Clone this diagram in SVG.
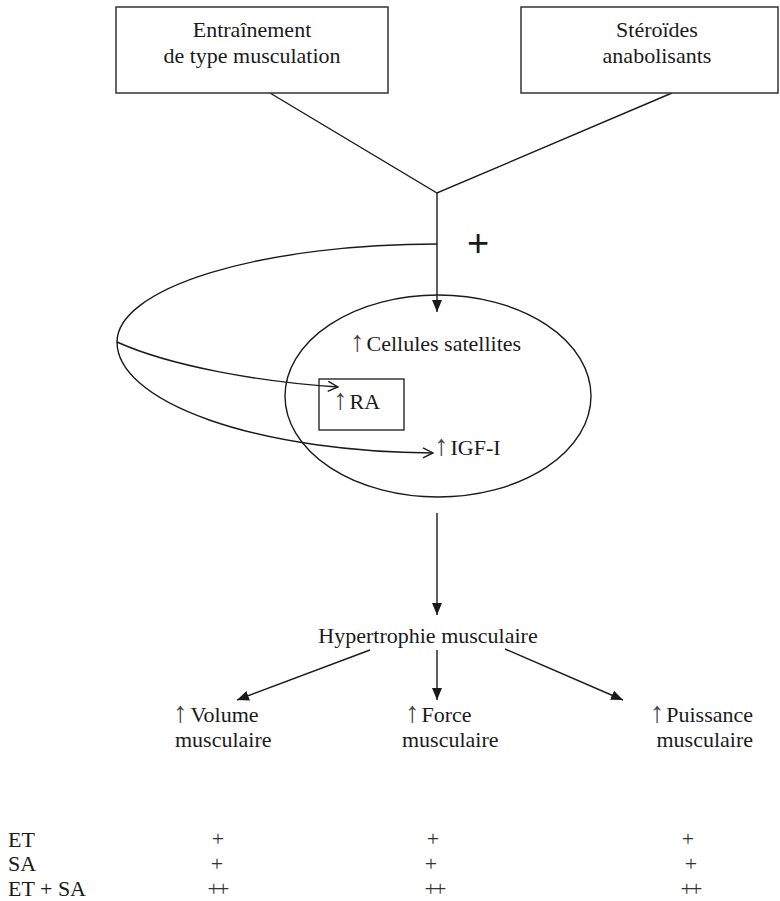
<svg xmlns="http://www.w3.org/2000/svg" width="780" height="901" viewBox="0 0 780 901">
<style>
.t{font-family:"Liberation Serif","Times New Roman",serif;font-size:22px;fill:#1a1a1a}
.box{fill:#fff;stroke:#333;stroke-width:1.5}
.ln{fill:none;stroke:#1a1a1a;stroke-width:1.4}
.up{font-size:29px;fill:#444}
.pl{font-family:"Liberation Serif",serif;font-size:22px;fill:#333;text-anchor:middle}
</style>
<defs>
<marker id="ah" viewBox="0 0 12 10" refX="12" refY="5" markerWidth="12" markerHeight="10" orient="auto" markerUnits="userSpaceOnUse"><path d="M0,0 L12,5 L0,10 z" fill="#1a1a1a"/></marker>
<marker id="oh" viewBox="0 0 12 12" refX="11" refY="6" markerWidth="12" markerHeight="12" orient="auto" markerUnits="userSpaceOnUse"><path d="M1,1 L11,6 L1,11" fill="none" stroke="#1a1a1a" stroke-width="1.4"/></marker>
</defs>
<rect width="780" height="901" fill="#fff"/>
<g id="connectors">
<path class="ln" d="M270,93 L437,193 L672,93"/>
<path class="ln" d="M437,193 L437,312" marker-end="url(#ah)"/>
<path class="ln" d="M437,244 A320,98 0 0 0 117,342"/>
<path class="ln" d="M117,342 A320,111 0 0 0 433,453" marker-end="url(#oh)"/>
<path class="ln" d="M117,342 C170,366 260,382 338,387" marker-end="url(#oh)"/>
<path class="ln" d="M437,513 L437,615" marker-end="url(#ah)"/>
<path class="ln" d="M370,650 L237,700" marker-end="url(#ah)"/>
<path class="ln" d="M437,650 L437,700" marker-end="url(#ah)"/>
<path class="ln" d="M505,649 L623,700" marker-end="url(#ah)"/>
<text x="478" y="256" style="font-family:'Liberation Sans',Arial,sans-serif;font-size:38px;fill:#1a1a1a" text-anchor="middle">+</text>
</g>
<g id="entrainement">
<rect class="box" x="116" y="7" width="272" height="86"/>
<text class="t" x="252" y="37" text-anchor="middle">Entraînement</text>
<text class="t" x="252" y="63" text-anchor="middle">de type musculation</text>
</g>
<g id="steroides">
<rect class="box" x="521" y="7" width="257" height="86"/>
<text class="t" x="657" y="37" text-anchor="middle">Stéroïdes</text>
<text class="t" x="657" y="63" text-anchor="middle">anabolisants</text>
</g>
<g id="cellules">
<ellipse cx="438" cy="396" rx="153" ry="101" fill="none" stroke="#1a1a1a" stroke-width="1.4"/>
<text class="t" x="350" y="351"><tspan class="up">↑</tspan><tspan dx="2">Cellules satellites</tspan></text>
</g>
<g id="ra">
<rect x="319" y="379" width="85" height="51" fill="none" stroke="#1a1a1a" stroke-width="1.3"/>
<text class="t" x="333" y="409"><tspan class="up" fill="#888">↑</tspan><tspan dx="2">RA</tspan></text>
</g>
<g id="igf">
<text class="t" x="434" y="455"><tspan class="up">↑</tspan><tspan dx="2">IGF-I</tspan></text>
</g>
<g id="hypertrophie">
<text class="t" x="428" y="643" text-anchor="middle">Hypertrophie musculaire</text>
</g>
<g id="volume">
<text class="t" x="173" y="722"><tspan class="up">↑</tspan><tspan dx="3">Volume</tspan></text>
<text class="t" x="175" y="747">musculaire</text>
</g>
<g id="force">
<text class="t" x="405" y="722"><tspan class="up">↑</tspan><tspan dx="2">Force</tspan></text>
<text class="t" x="402" y="747">musculaire</text>
</g>
<g id="puissance">
<text class="t" x="753" y="722" text-anchor="end"><tspan class="up">↑</tspan><tspan dx="2">Puissance</tspan></text>
<text class="t" x="753" y="747" text-anchor="end">musculaire</text>
</g>
<g id="table">
<text class="t" x="8" y="847">ET</text>
<text class="t" x="8" y="871">SA</text>
<text class="t" x="8" y="896">ET + SA</text>
<text class="pl" x="218" y="846">+</text>
<text class="pl" x="433" y="846">+</text>
<text class="pl" x="688" y="846">+</text>
<text class="pl" x="217" y="871">+</text>
<text class="pl" x="431" y="871">+</text>
<text class="pl" x="691" y="871">+</text>
<text class="pl" x="217" y="896" letter-spacing="-3">++</text>
<text class="pl" x="434" y="896" letter-spacing="-3">++</text>
<text class="pl" x="690" y="896" letter-spacing="-3">++</text>
</g>
</svg>
